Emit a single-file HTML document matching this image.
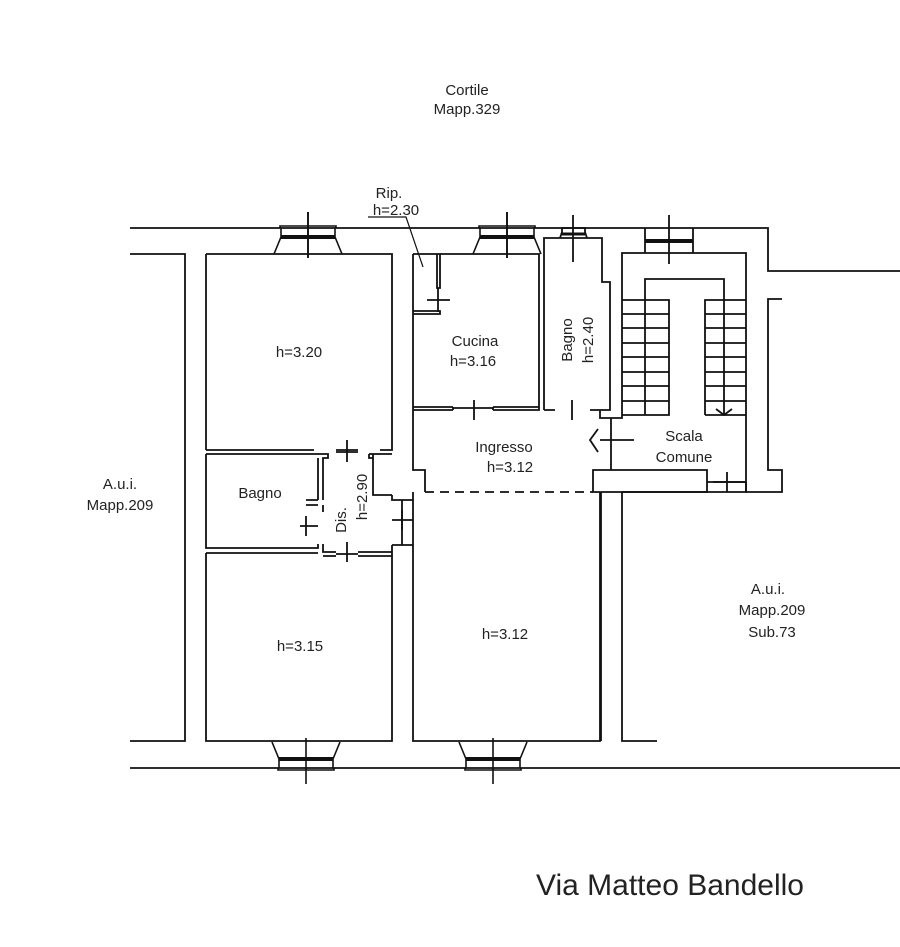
<!DOCTYPE html>
<html><head><meta charset="utf-8"><style>
html,body{margin:0;padding:0;background:#fff}
svg{display:block}
text{font-family:"Liberation Sans",Arial,sans-serif;fill:#222;font-size:15px}
</style></head><body>
<svg width="900" height="947" viewBox="0 0 900 947" xmlns="http://www.w3.org/2000/svg">
<defs>
<g id="win" fill="none" stroke="#111" stroke-width="1.6">
<path d="M-28,0 L-28,-2 L28,-2 L28,0 M-27,0 L-27,9 M27,0 L27,9 M-27,9 L-34,26 M27,9 L34,26"/>
<path d="M-27,9 L27,9" stroke-width="4"/>
<path d="M0,-16 L0,30"/>
</g>
</defs>
<g fill="none" stroke="#111" stroke-width="1.8">
<path d="M130,228 L768,228 L768,271 L900,271"/>
<path d="M130,768 L900,768"/>
<path d="M130,254 L185,254 L185,741 L130,741"/>
<path d="M206,254 L392,254 L392,450 L380,450 M358,450 L336,450 M314,450 L206,450 Z"/>
<path d="M206,254 L206,450"/>
<path d="M206,454 L328,454 L328,458 L323,458 L323,500 M318,500 L318,458 M206,454 L206,548 L318,548 L318,544 M318,505 L306,505"/>
<path d="M323,544 L323,552 L336,552 M358,552 L392,552 M206,553 L318,553"/>
<path d="M323,505 L323,512 M318,500 L306,500"/>
<path d="M206,553 L206,741 L392,741 L392,556 L358,556 M336,556 L323,556"/>
<path d="M369,454 L392,454 M373,454 L373,495 L392,495 M369,454 L369,458 L373,458"/>
<path d="M392,495 L392,500 L413,500 L413,492 M402,500 L402,545 M392,545 L413,545 M392,545 L392,556"/>
<path d="M413,254 L413,470 L425,470 L425,492 M413,500 L413,741 L600,741 L600,492 L593,492 L593,470 L707,470 L707,492 L601,492"/>
<path d="M601,492 L601,741 M622,492 L622,741 L657,741"/>
<path d="M622,492 L746,492 L746,482 M707,482 L746,482"/>
<path d="M413,254 L440,254 L440,288 L437,288 L437,254 M438,288 L438,312 M413,311 L440,311 L440,314 L413,314"/>
<path d="M440,254 L539,254 L539,410 L493,410 M453,410 L413,410"/>
<path d="M453,407 L453,410 M493,407 L493,410 M413,407 L453,407 M493,407 L539,407"/>
<path d="M544,410 L544,238 L602,238 L602,282 L610,282 L610,410 L600,410 M544,410 L555,410 M590,410 L600,410"/>
<path d="M600,410 L600,418 L611,418 L611,470 M611,418 L622,418 L622,253 L746,253 L746,492"/>
<path d="M645,253 L645,228 M693,253 L693,228"/>
<path d="M645,241 L693,241" stroke-width="4"/>
<path d="M669,215 L669,264"/>
<path d="M645,300 L645,279 L724,279 L724,300"/>
<path d="M622,300 L669,300 L669,415 L622,415 M645,300 L645,415"/>
<path d="M705,415 L705,300 L746,300 M724,300 L724,415 L746,415 M705,415 L746,415"/>
<path d="M622,314 L669,314 M622,328 L669,328 M622,343 L669,343 M622,357 L669,357 M622,372 L669,372 M622,386 L669,386 M622,401 L669,401"/>
<path d="M705,314 L746,314 M705,328 L746,328 M705,343 L746,343 M705,357 L746,357 M705,372 L746,372 M705,386 L746,386 M705,401 L746,401"/>
<path d="M716,409 L724,415 L732,409"/>
<path d="M782,299 L768,299 L768,470 L782,470 L782,492 L746,492"/>
<path d="M308,212 L308,258 M507,212 L507,258 M573,215 L573,262"/>
<path d="M347,440 L347,462 M336,452 L358,452"/>
<path d="M347,542 L347,562 M336,554 L358,554"/>
<path d="M474,400 L474,420 M453,408 L493,408"/>
<path d="M572,400 L572,420"/>
<path d="M427,300 L450,300"/>
<path d="M306,516 L306,536 M300,526 L318,526"/>
<path d="M392,520 L413,520 M402,510 L402,530"/>
<path d="M727,472 L727,492"/>
<path d="M600,440 L634,440"/>
<path d="M598,429 L590,440 L598,452"/>
<path d="M713,482 L746,482"/>
<path d="M560,238 L562,232 L562,228 L585,228 L585,232 L587,238"/>
<path d="M562,234 L585,234" stroke-width="3"/>
<path d="M425,492 L593,492" stroke-dasharray="9,6"/>
<path d="M368,217 L406,217 L423,267" stroke-width="1.2"/>
</g>
<use href="#win" x="308" y="228"/>
<use href="#win" x="507" y="228"/>
<use href="#win" transform="translate(306,768) scale(1,-1)"/>
<use href="#win" transform="translate(493,768) scale(1,-1)"/>
<text x="467" y="95" text-anchor="middle">Cortile</text>
<text x="467" y="114" text-anchor="middle">Mapp.329</text>
<text x="389" y="198" text-anchor="middle">Rip.</text>
<text x="396" y="215" text-anchor="middle">h=2.30</text>
<text x="299" y="357" text-anchor="middle">h=3.20</text>
<text x="475" y="346" text-anchor="middle">Cucina</text>
<text x="473" y="366" text-anchor="middle">h=3.16</text>
<text transform="translate(572,340) rotate(-90)" text-anchor="middle">Bagno</text>
<text transform="translate(593,340) rotate(-90)" text-anchor="middle">h=2.40</text>
<text x="504" y="452" text-anchor="middle">Ingresso</text>
<text x="510" y="472" text-anchor="middle">h=3.12</text>
<text x="684" y="441" text-anchor="middle">Scala</text>
<text x="684" y="462" text-anchor="middle">Comune</text>
<text x="260" y="498" text-anchor="middle">Bagno</text>
<text transform="translate(346,520) rotate(-90)" text-anchor="middle">Dis.</text>
<text transform="translate(367,497) rotate(-90)" text-anchor="middle">h=2.90</text>
<text x="120" y="489" text-anchor="middle">A.u.i.</text>
<text x="120" y="510" text-anchor="middle">Mapp.209</text>
<text x="300" y="651" text-anchor="middle">h=3.15</text>
<text x="505" y="639" text-anchor="middle">h=3.12</text>
<text x="768" y="594" text-anchor="middle">A.u.i.</text>
<text x="772" y="615" text-anchor="middle">Mapp.209</text>
<text x="772" y="637" text-anchor="middle">Sub.73</text>
<text x="670" y="895" text-anchor="middle" style="font-size:30px">Via Matteo Bandello</text>
</svg>
</body></html>
